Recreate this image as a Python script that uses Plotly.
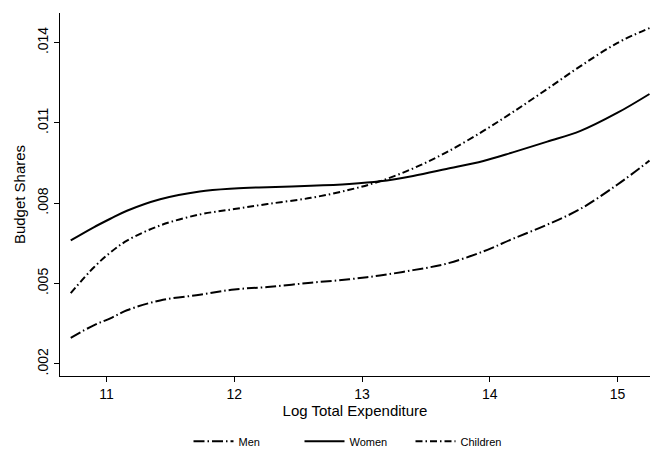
import plotly.graph_objects as go

log_exp = [10.72, 10.9, 11.03, 11.16, 11.42, 11.73, 12.0, 12.26, 12.6, 12.9, 13.14, 13.4, 13.66, 13.95, 14.18, 14.45, 14.71, 15.0, 15.25]
men = [0.00297, 0.00344, 0.0037, 0.0040, 0.00437, 0.00458, 0.00478, 0.00487, 0.00503, 0.00516, 0.0053, 0.0055, 0.00574, 0.0062, 0.00667, 0.0072, 0.00779, 0.0087, 0.00959]
women = [0.00661, 0.0071, 0.00742, 0.00772, 0.00815, 0.00844, 0.00855, 0.0086, 0.00865, 0.00872, 0.00882, 0.00902, 0.00928, 0.00958, 0.0099, 0.0103, 0.0107, 0.01138, 0.01208]
children = [0.00464, 0.0056, 0.00616, 0.0066, 0.00717, 0.00758, 0.00778, 0.00797, 0.0082, 0.0085, 0.00882, 0.0093, 0.0099, 0.0107, 0.0114, 0.01227, 0.01312, 0.01399, 0.01454]

y_ticks = [0.002, 0.005, 0.008, 0.011, 0.014]
y_ticktext = [".002", ".005", ".008", ".011", ".014"]
x_ticks = [11, 12, 13, 14, 15]

fig = go.Figure()
fig.add_trace(go.Scatter(x=log_exp, y=men, mode="lines", name="Men",
                         line=dict(color="black", width=2, dash="11px,3px,1.5px,3px", shape="spline")))
fig.add_trace(go.Scatter(x=log_exp, y=women, mode="lines", name="Women",
                         line=dict(color="black", width=2, dash="solid", shape="spline")))
fig.add_trace(go.Scatter(x=log_exp, y=children, mode="lines", name="Children",
                         line=dict(color="black", width=2, dash="7px,3px,1.5px,3px", shape="spline")))

fig.update_layout(
    width=650, height=461,
    margin=dict(l=60, r=0, t=13, b=85),
    paper_bgcolor="white", plot_bgcolor="white",
    font=dict(family="Liberation Sans, Arial, sans-serif", color="black"),
    showlegend=True,
    legend=dict(orientation="h", x=0.5, xanchor="center", y=-0.18, yanchor="middle",
                font=dict(size=11), itemwidth=40, entrywidth=56, entrywidthmode="pixels",
                bgcolor="rgba(0,0,0,0)"),
    xaxis=dict(range=[10.636, 15.254], tickvals=x_ticks, ticks="outside", ticklen=5,
               tickcolor="black", showline=True, linecolor="black", linewidth=1,
               showgrid=False, zeroline=False, tickfont=dict(size=14), automargin=False,
               title=dict(text="Log Total Expenditure", font=dict(size=15), standoff=2)),
    yaxis=dict(range=[0.001546, 0.015105], tickvals=y_ticks, ticktext=y_ticktext,
               ticks="outside", ticklen=5, tickcolor="black", tickangle=-90,
               showline=True, linecolor="black", linewidth=1,
               showgrid=False, zeroline=False, tickfont=dict(size=14), automargin=False,
               title=dict(text="Budget Shares", font=dict(size=15), standoff=6)),
)

fig.write_html("out.html", config={"displayModeBar": False},
               post_script="document.body.style.margin='0';")
